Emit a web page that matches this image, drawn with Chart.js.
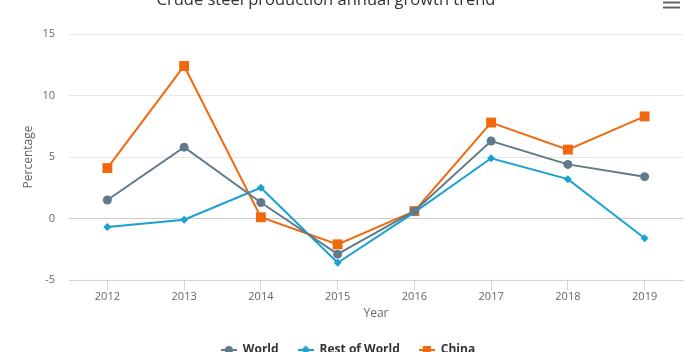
<!DOCTYPE html>
<html>
<head>
<meta charset="utf-8">
<script src="https://cdn.jsdelivr.net/npm/chart.js@4"></script>
<style>
    html, body { margin: 0; padding: 0; background: #fff; overflow: hidden; }
    #wrap { position: relative; width: 696px; height: 372px; }
</style>
</head>
<body>
<div id="wrap"><canvas id="growthChart"></canvas></div>
<script>
// =============================================
// Crude steel production - annual growth
// =============================================

var years = ["2012", "2013", "2014", "2015", "2016", "2017", "2018", "2019"];
var worldGrowth = [1.5, 5.8, 1.3, -2.9, 0.6, 6.3, 4.4, 3.4];
var restOfWorldGrowth = [-0.7, -0.1, 2.5, -3.6, 0.5, 4.9, 3.2, -1.6];
var chinaGrowth = [4.1, 12.4, 0.1, -2.1, 0.6, 7.8, 5.6, 8.3];
var yTicks = [-5, 0, 5, 10, 15];

var chartTitle = "Crude steel production annual growth trend";
var fontFamily = "'Open Sans', 'DejaVu Sans', sans-serif";

// title + export menu icon (highcharts-like)
var headerPlugin = {
    id: "header",
    afterDraw: function(chart) {
        var ctx = chart.ctx;
        ctx.save();
        ctx.font = "16.5px " + fontFamily;
        ctx.fillStyle = "#333333";
        ctx.textAlign = "center";
        ctx.textBaseline = "middle";
        ctx.fillText(chartTitle, 326, 0);

        ctx.strokeStyle = "#666666";
        ctx.lineWidth = 2;
        var ys = [-3, 2.5, 7.5];
        for (var i = 0; i < ys.length; i++) {
            ctx.beginPath();
            ctx.moveTo(663, ys[i]);
            ctx.lineTo(680, ys[i]);
            ctx.stroke();
        }
        ctx.restore();
    }
};

// legend symbol: short line with the marker on top
function legendSymbol(color, style) {
    var c = document.createElement("canvas");
    c.width = 16;
    c.height = 12;
    var g = c.getContext("2d");
    g.strokeStyle = color;
    g.fillStyle = color;
    g.lineWidth = 2;
    g.beginPath();
    g.moveTo(0, 6);
    g.lineTo(16, 6);
    g.stroke();
    g.beginPath();
    if (style === "circle") {
        g.arc(8, 6, 4, 0, Math.PI * 2);
    } else if (style === "rectRot") {
        g.moveTo(8, 1.5);
        g.lineTo(12.5, 6);
        g.lineTo(8, 10.5);
        g.lineTo(3.5, 6);
        g.closePath();
    } else {
        g.rect(4, 2, 8, 8);
    }
    g.fill();
    return c;
}

function makeDataset(label, data, color, style, radius) {
    return {
        label: label,
        data: data,
        borderColor: color,
        backgroundColor: color,
        borderWidth: 2,
        pointStyle: style,
        pointRadius: radius,
        pointHoverRadius: radius + 1,
        pointBorderWidth: 0,
        tension: 0,
        legendIcon: legendSymbol(color, style)
    };
}

var ctx = document.getElementById("growthChart");

new Chart(ctx, {
    type: "line",
    data: {
        labels: years,
        datasets: [
            makeDataset("World", worldGrowth, "#5f7b8a", "circle", 4.5),
            makeDataset("Rest of World", restOfWorldGrowth, "#1aa1d2", "rectRot", 4),
            makeDataset("China", chinaGrowth, "#f0690f", "rect", 7)
        ]
    },
    options: {
        responsive: true,
        maintainAspectRatio: false,
        animation: false,
        layout: { padding: { top: 34, right: 0, left: 0, bottom: 6 } },
        plugins: {
            title: { display: false },
            legend: {
                display: true,
                position: "bottom",
                labels: {
                    usePointStyle: true,
                    pointStyleWidth: 16,
                    padding: 19,
                    color: "#333333",
                    font: { family: fontFamily, size: 12, weight: "bold" },
                    generateLabels: function(chart) {
                        var items = Chart.defaults.plugins.legend.labels.generateLabels(chart);
                        items.forEach(function(item) {
                            item.pointStyle = chart.data.datasets[item.datasetIndex].legendIcon;
                        });
                        return items;
                    }
                }
            },
            tooltip: { enabled: true }
        },
        scales: {
            x: {
                offset: true,
                afterFit: function(scale) { scale.height = 45; },
                grid: {
                    offset: false,
                    drawOnChartArea: false,
                    drawTicks: true,
                    tickLength: 10,
                    color: "#ccd6eb"
                },
                border: { display: true, color: "#ccd6eb", width: 1 },
                ticks: {
                    color: "#666666",
                    padding: 0,
                    maxRotation: 0,
                    font: { family: fontFamily, size: 11 }
                },
                title: {
                    display: true,
                    text: "Year",
                    color: "#666666",
                    padding: { top: 0, bottom: 4 },
                    font: { family: fontFamily, size: 12 }
                }
            },
            y: {
                min: -5,
                max: 15,
                afterFit: function(scale) { scale.width = 69; },
                afterBuildTicks: function(scale) {
                    scale.ticks = yTicks.map(function(v) { return { value: v }; });
                },
                grid: {
                    drawTicks: false,
                    color: function(c) {
                        return c.tick && c.tick.value === 0 ? "#cccccc" : "#e6e6e6";
                    }
                },
                border: { display: false },
                ticks: {
                    color: "#666666",
                    padding: 14,
                    font: { family: fontFamily, size: 11 }
                },
                title: {
                    display: true,
                    text: "Percentage",
                    color: "#666666",
                    padding: { top: 21, bottom: 0 },
                    font: { family: fontFamily, size: 12 }
                }
            },
            // empty right-hand spacer so the legend stays centred on the canvas
            yRight: {
                position: "right",
                min: -5,
                max: 15,
                afterFit: function(scale) { scale.width = 13; },
                grid: { display: false },
                border: { display: false },
                ticks: { display: false }
            }
        }
    },
    plugins: [headerPlugin]
});
</script>
</body>
</html>
